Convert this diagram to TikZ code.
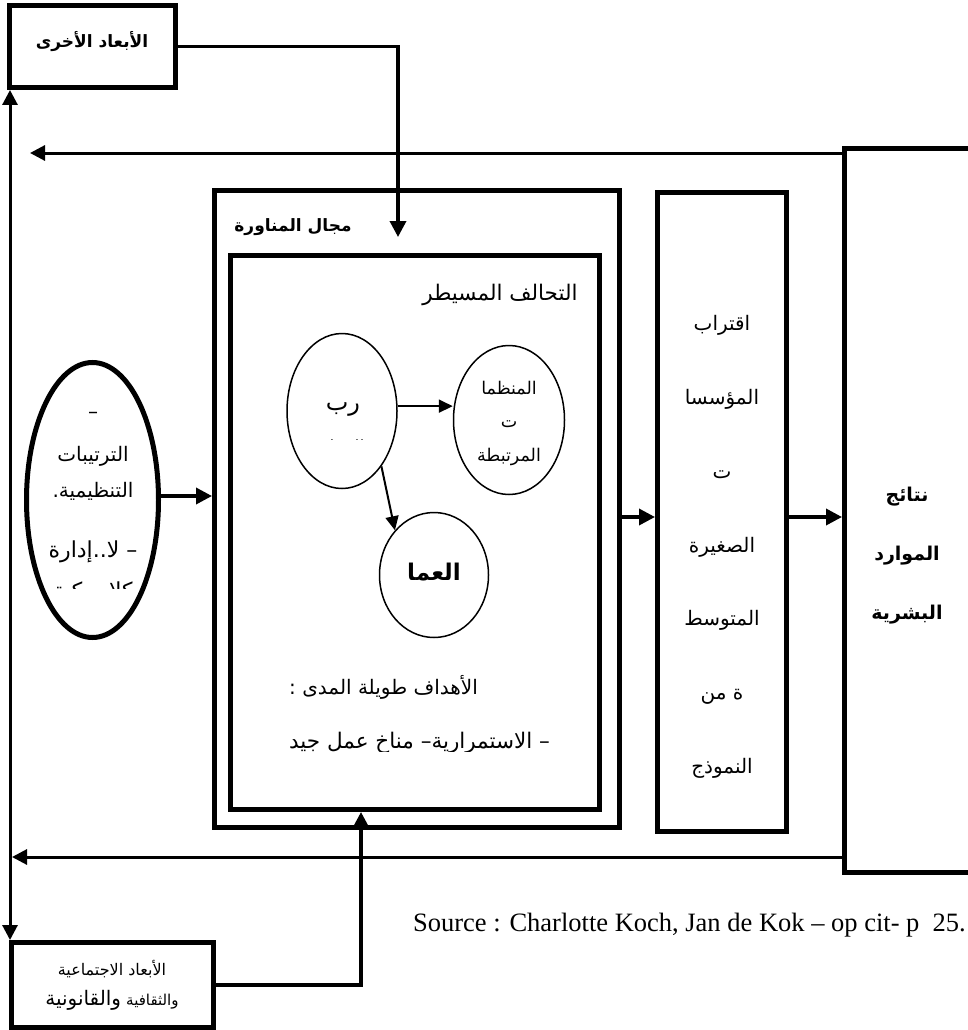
\documentclass[tikz,border=0pt]{standalone}
\usepackage{fontspec}
\setmainfont{Liberation Serif}
\newfontfamily\ar[Script=Arabic]{DejaVu Sans}
\TeXXeTstate=1
\usetikzlibrary{arrows.meta,shapes.geometric,calc}
\newcommand{\AR}[1]{\beginR #1\endR}
\begin{document}
\begin{tikzpicture}[x=1pt,y=-1pt,
  box/.style={draw, line width=5pt, rectangle, inner sep=0pt},
  conn/.style={line width=3.5pt, -{Triangle[length=16pt,width=16pt]}},
  conntwo/.style={line width=3pt, -{Triangle[length=15pt,width=15pt]}},
  thinarr/.style={line width=2pt, -{Triangle[length=14pt,width=13pt]}},
  ell/.style={draw, ellipse, line width=1.5pt, inner sep=0pt},
  artext/.style={font=\ar\fontsize{20}{24}\selectfont, inner sep=0pt},
  arbold/.style={font=\ar\bfseries\fontsize{17}{20}\selectfont, inner sep=0pt},
]
\useasboundingbox[fill=white] (0,0) rectangle (968,1030);

% boxes
\node[box, minimum width=166pt, minimum height=82pt] (top) at (92.5,46.5) {};
\node[box, minimum width=405pt, minimum height=637pt] (outer) at (417,509) {};
\node[box, minimum width=369pt, minimum height=554pt] (inner) at (415,532.5) {};
\node[box, minimum width=129pt, minimum height=639pt] (mid) at (722,512) {};
\node[box, minimum width=150pt, minimum height=724pt] (res) at (919.5,510.5) {};
\node[box, minimum width=202pt, minimum height=85pt] (soc) at (112.5,985) {};

% ellipses
\node[ell, line width=5pt, minimum width=132pt, minimum height=275pt] (lell) at (92.5,500) {};
\node[ell, minimum width=110pt, minimum height=155pt] (rb) at (342,411) {};
\node[ell, minimum width=111pt, minimum height=149pt] (org) at (509,420) {};
\node[ell, minimum width=109pt, minimum height=125pt] (amal) at (434,575) {};

% texts
\node[arbold] (toptxt) at (92,42) {\AR{الأبعاد الأخرى}};
\node[arbold] (majal) at (293,227) {\AR{مجال المناورة}};
\node[artext, font=\ar\fontsize{21.5}{25}\selectfont] (tahaluf) at (500,295) {\AR{التحالف المسيطر}};
\node[artext, font=\ar\fontsize{24}{28}\selectfont] (rbt) at (343,410) {\AR{رب}};
\begin{scope}
\clip (290,428) rectangle (400,439);
\node[artext, font=\ar\fontsize{18}{22}\selectfont] (rbtwo) at (343,448) {\AR{العمل}};
\end{scope}
\node[artext, align=center, font=\ar\fontsize{17.5}{33.5}\selectfont] (orgt) at (509,423) {\AR{المنظما}\\\AR{ت}\\\AR{المرتبطة}};
\node[arbold, font=\ar\bfseries\fontsize{23}{27}\selectfont] (amalt) at (434,572) {\AR{العما}};
\node[artext, anchor=west] (goals) at (289,687) {\AR{الأهداف طويلة المدى :}};
\begin{scope}
\clip (280,724) rectangle (600,751);
\node[artext, font=\ar\fontsize{21.5}{25}\selectfont, anchor=west] (goalstwo) at (289,743) {\AR{– الاستمرارية– مناخ عمل جيد}};
\end{scope}

\node[artext] (lta) at (93,415) {–};
\node[artext] (ltb) at (93,456) {\AR{الترتيبات}};
\node[artext] (ltc) at (93,491) {\AR{التنظيمية.}};
\node[artext, font=\ar\fontsize{22}{26}\selectfont] (ltd) at (93,552) {\AR{– لا..إدارة}};
\begin{scope}
\clip (30,569) rectangle (160,588);
\node[artext, font=\ar\fontsize{22}{26}\selectfont] (lte) at (93,592) {\AR{كلاسيكية}};
\end{scope}

\node[artext, align=center, font=\ar\fontsize{20}{73.8}\selectfont] (midt) at (722,547)
  {\AR{اقتراب}\\\AR{المؤسسا}\\\AR{ت}\\\AR{الصغيرة}\\\AR{المتوسط}\\\AR{ة من}\\\AR{النموذج}};
\node[arbold, align=center, font=\ar\bfseries\fontsize{19}{59}\selectfont] (rest) at (907,556)
  {\AR{نتائج}\\\AR{الموارد}\\\AR{البشرية}};

\node[inner sep=0pt, align=center, font=\ar\fontsize{16}{30}\selectfont] (soct) at (112,985)
  {\AR{الأبعاد الاجتماعية}\\\AR{{\fontsize{15}{30}\selectfont والثقافية} {\fontsize{20}{30}\selectfont والقانونية}}};

\node[font=\fontsize{26.5}{30}\selectfont, anchor=east, inner sep=0pt] (src) at (966,925)
  {Source : Charlotte Koch, Jan de Kok -- op cit- p~~25.};

% connectors
\coordinate (dtip) at (398,237);
\draw[conn] (top.east) -| (dtip);
\coordinate (ux) at (361,0);
\draw[conn] (soc.east) -| (inner.south -| ux);
\draw[conn] ($(lell.east)+(0,-4)$) -- ($(lell.east -| outer.west)+(0,-4)$);
\coordinate (row) at (0,517);
\draw[conn] (outer.east |- row) -- (mid.west |- row);
\draw[conn] (mid.east |- row) -- (res.west |- row);
\coordinate (ltipa) at (30,153);
\draw[conntwo] (res.west |- ltipa) -- (ltipa);
\coordinate (ltipb) at (12,857);
\draw[conntwo] (res.west |- ltipb) -- (ltipb);
\coordinate (vx) at (10,0);
\draw[line width=3pt, {Triangle[length=15pt,width=15pt]}-{Triangle[length=15pt,width=15pt]}] (top.south -| vx) -- (soc.north -| vx);
\draw[thinarr] (rb.5) -- (rb.5 -| org.west);
\draw[thinarr] (rb.south east) -- (amal.north west);
\end{tikzpicture}
\end{document}
